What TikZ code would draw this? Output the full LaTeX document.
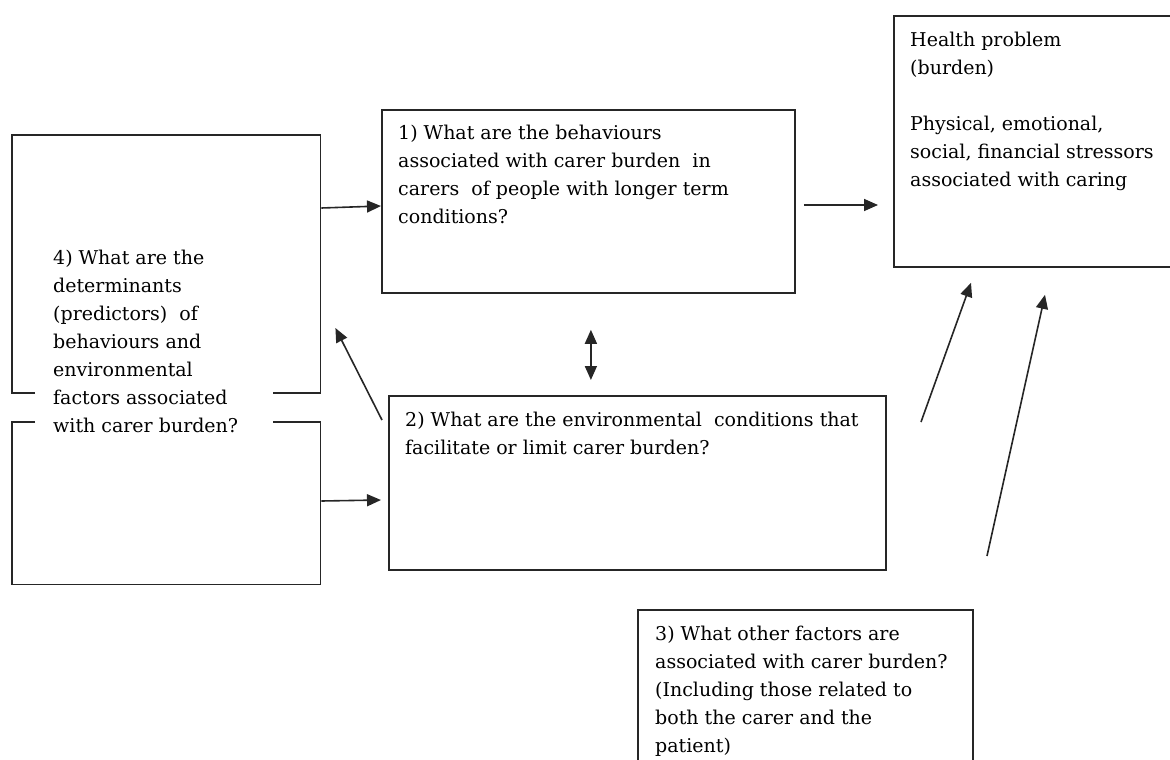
\documentclass[tikz,border=0pt]{standalone}
\usepackage{fontspec}
\setmainfont{DejaVu Serif}
\usetikzlibrary{arrows.meta,calc}
\begin{document}
\begin{tikzpicture}[x=1pt,y=-1pt,
  box/.style={draw=black!85, line width=1.8pt, inner sep=0pt, anchor=north west},
  frame/.style={draw=black!85, line width=1.8pt},
  txt/.style={anchor=north west, align=left, inner sep=0pt,
    font=\fontsize{19}{28}\selectfont, text=black},
  conn/.style={draw=black!85, line width=1.6pt, -{Triangle[length=14pt,width=12pt]}},
  biconn/.style={draw=black!85, line width=1.6pt,
    {Triangle[length=14pt,width=12pt]}-{Triangle[length=14pt,width=12pt]}},
]
\useasboundingbox (0,0) rectangle (1170,760);

% boxes
\node[box, minimum width=413pt, minimum height=183pt] (q1) at (381,109) {};
\node[box, minimum width=300pt, minimum height=251pt] (health) at (893,15) {};
\node[box, minimum width=497pt, minimum height=174pt] (q2) at (388,395) {};
\node[box, minimum width=335pt, minimum height=200pt] (q3) at (637,609) {};
\node[anchor=north west, inner sep=0pt, minimum width=308pt, minimum height=449pt] (q4) at (12,135) {};

% box 4 is broken open where its text runs across
\draw[frame] (35,393) -- (q4.north west |- 0,393) -- (q4.north west) -- (q4.north east) -- (q4.north east |- 0,393) -- (273,393);
\draw[frame] (35,422) -- (q4.south west |- 0,422) -- (q4.south west) -- (q4.south east) -- (q4.south east |- 0,422) -- (273,422);

% texts
\node[txt] (t1) at (398,125) {1) What are the behaviours\\associated with carer burden\ \ in\\carers\ \ of people with longer term\\conditions?};
\node[txt] (th) at (910,32) {Health problem\\(burden)\\[28pt]Physical, emotional,\\social, financial stressors\\associated with caring};
\node[txt] (t2) at (405,412) {2) What are the environmental\ \ conditions that\\facilitate or limit carer burden?};
\node[txt] (t3) at (655,626) {3) What other factors are\\associated with carer burden?\\(Including those related to\\both the carer and the\\patient)};
\node[txt] (t4) at (53,250) {4) What are the\\determinants\\(predictors)\ \ of\\behaviours and\\environmental\\factors associated\\with carer burden?};

% free ends of the connectors
\coordinate (a1) at ($(q1.north east)+(8,96)$);
\coordinate (a2) at ($(health.north west)+(-15,190)$);
\coordinate (d1) at ($(q1.south)+(2.5,36)$);
\coordinate (d2) at ($(q2.north)+(-46.5,-15)$);
\coordinate (b1) at ($(q2.north west)+(-6,25)$);
\coordinate (b2) at ($(q4.north east)+(15,193)$);
\coordinate (e1) at (921,422);
\coordinate (e2) at ($(health.south west)+(78,15)$);
\coordinate (f1) at (987,556);
\coordinate (f2) at ($(health.south west)+(152,27)$);

% connectors
\draw[conn] ($(q4.north east)+(1,73)$) -- ($(q1.north west)+(0,97)$);
\draw[conn] ($(q4.north east)+(1,366)$) -- ($(q2.north west)+(-7,105)$);
\draw[conn] (a1) -- (a2);
\draw[biconn] (d1) -- (d2);
\draw[conn] (b1) -- (b2);
\draw[conn] (e1) -- (e2);
\draw[conn] (f1) -- (f2);
\end{tikzpicture}
\end{document}
